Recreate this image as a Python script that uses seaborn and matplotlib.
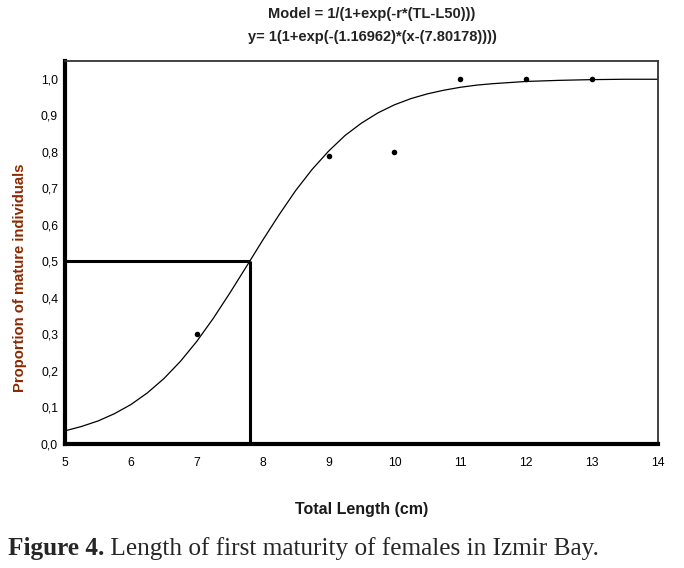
import matplotlib
matplotlib.use("Agg")
import matplotlib.pyplot as plt
import seaborn as sns
import pandas as pd

# observed proportions
obs_length = [7, 9, 10, 11, 12, 13]
obs_prop = [0.30, 0.79, 0.80, 1.00, 1.00, 1.00]

# fitted curve
curve_length = [5, 5.25, 5.5, 5.75, 6, 6.25, 6.5, 6.75, 7, 7.25, 7.5, 7.75, 8, 8.25, 8.5, 8.75,
                9, 9.25, 9.5, 9.75, 10, 10.25, 10.5, 10.75, 11, 11.25, 11.5, 11.75, 12, 12.5,
                13, 13.5, 14]
curve_prop = [0.036, 0.048, 0.063, 0.083, 0.108, 0.140, 0.179, 0.226, 0.281, 0.344, 0.413, 0.485,
              0.558, 0.628, 0.694, 0.752, 0.802, 0.845, 0.879, 0.907, 0.929, 0.946, 0.959, 0.969,
              0.977, 0.983, 0.987, 0.990, 0.993, 0.996, 0.998, 0.999, 0.999]

L50 = 7.80178
x_ticks = [5, 6, 7, 8, 9, 10, 11, 12, 13, 14]
y_ticks = [0.0, 0.1, 0.2, 0.3, 0.4, 0.5, 0.6, 0.7, 0.8, 0.9, 1.0]
y_tick_labels = ["0,0", "0,1", "0,2", "0,3", "0,4", "0,5", "0,6", "0,7", "0,8", "0,9", "1,0"]

title1 = "Model = 1/(1+exp(-r*(TL-L50)))"
title2 = "y= 1(1+exp(-(1.16962)*(x-(7.80178))))"
caption_bold = "Figure 4."
caption_rest = " Length of first maturity of females in Izmir Bay."

sns.set_theme(style="white")
plt.rcParams['font.family'] = ['Liberation Sans', 'DejaVu Sans']

fig = plt.figure(figsize=(6.84, 5.68), dpi=100)
ax = fig.add_axes([65/684, 1-444/568, (658-65)/684, (444-61)/568])

df_curve = pd.DataFrame({"x": curve_length, "y": curve_prop})
df_obs = pd.DataFrame({"x": obs_length, "y": obs_prop})
sns.lineplot(data=df_curve, x="x", y="y", ax=ax, color="black", linewidth=0.9)
sns.scatterplot(data=df_obs, x="x", y="y", ax=ax, color="black", s=16, edgecolor="black", linewidth=0)

ax.plot([5, L50], [0.5, 0.5], color="black", linewidth=2.2, solid_capstyle="butt")
ax.plot([L50, L50], [0, 0.5], color="black", linewidth=2.2, solid_capstyle="butt")

ax.set_xlim(5, 14)
ax.set_ylim(0, 1.049)
ax.set_xticks(x_ticks)
ax.set_xticklabels([str(t) for t in x_ticks])
ax.set_yticks(y_ticks)
ax.set_yticklabels(y_tick_labels)
ax.tick_params(direction="in", length=3, width=1, labelsize=8.8, colors="black", pad=5)
ax.tick_params(axis="x", pad=9)

for side in ["left", "bottom"]:
    ax.spines[side].set_linewidth(3)
    ax.spines[side].set_color("black")
for side in ["top", "right"]:
    ax.spines[side].set_linewidth(1.3)
    ax.spines[side].set_color("#333333")

ax.set_xlabel("Total Length (cm)", fontsize=11.5, fontweight="bold", color="#1a1a1a")
ax.xaxis.set_label_coords(0.5, -(502-444)/383)
ax.set_ylabel("Proportion of mature individuals", fontsize=10.7, fontweight="bold", color="#8b2a00")
ax.yaxis.set_label_coords(-(65-27)/593, (444-278)/383)

fig.text(372/684, 1-14/568, title1, ha="center", va="center", fontsize=10.5, fontweight="bold", color="#222222")
fig.text(372/684, 1-37/568, title2, ha="center", va="center", fontsize=10.5, fontweight="bold", color="#222222")

t1 = fig.text(8/684, 1-549/568, caption_bold, ha="left", va="center", fontsize=18.2,
              fontweight="bold", family=["Liberation Serif", "DejaVu Serif"])
fig.canvas.draw()
bb = t1.get_window_extent(renderer=fig.canvas.get_renderer())
fig.text(bb.x1/fig.bbox.width, 1-549/568, caption_rest, ha="left", va="center", fontsize=18.2,
         family=["Liberation Serif", "DejaVu Serif"])

fig.savefig("out.png", dpi=100)
